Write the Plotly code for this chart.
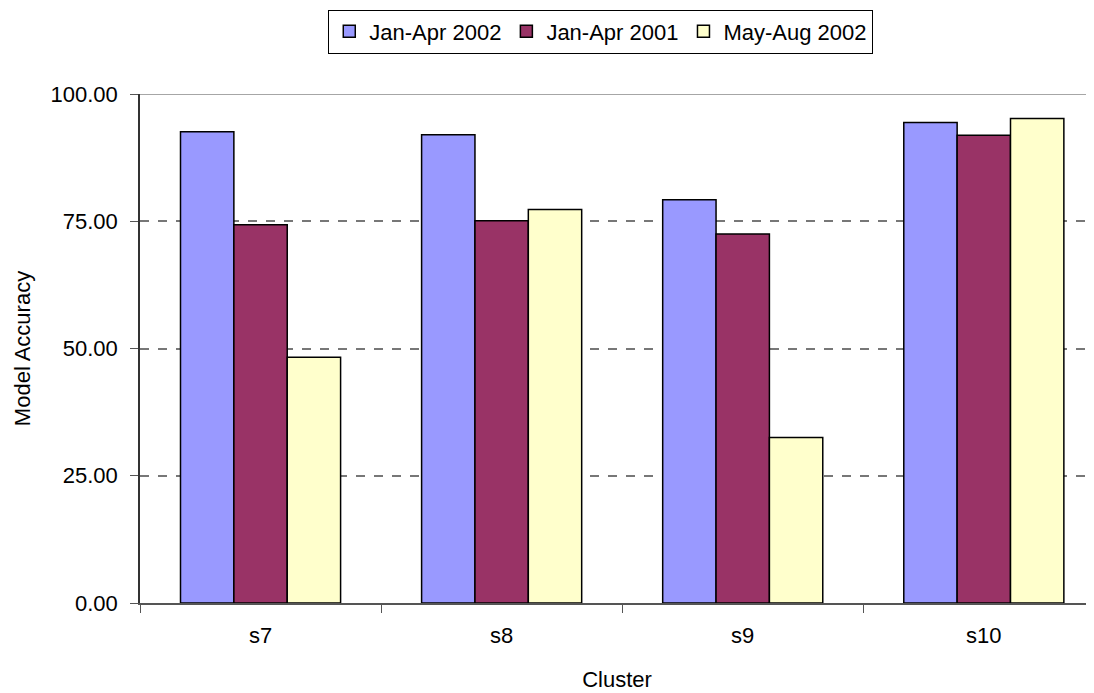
import plotly.graph_objects as go

# data
clusters = ["s7", "s8", "s9", "s10"]
jan_apr_2002 = [92.6, 92.0, 79.2, 94.4]
jan_apr_2001 = [74.3, 75.1, 72.5, 91.9]
may_aug_2002 = [48.3, 77.3, 32.5, 95.2]

series_names = ["Jan-Apr 2002", "Jan-Apr 2001", "May-Aug 2002"]
series_colors = ["#9999FF", "#993366", "#FFFFCC"]

font_family = "Liberation Sans, Arial, sans-serif"

fig = go.Figure()
for name, vals, col in zip(series_names, [jan_apr_2002, jan_apr_2001, may_aug_2002], series_colors):
    fig.add_trace(go.Bar(
        x=clusters,
        y=vals,
        name=name,
        marker=dict(color=col, line=dict(color="black", width=1.5)),
    ))

fig.update_layout(
    # page body adds an 8px margin, so the figure is a bit smaller than the window
    width=1086,
    height=685,
    barmode="group",
    bargap=0.336,
    bargroupgap=0,
    plot_bgcolor="white",
    paper_bgcolor="white",
    font=dict(family=font_family, size=22, color="black"),
    margin=dict(l=132, r=0, t=86, b=90),
    showlegend=True,
    legend=dict(
        orientation="h",
        xanchor="center",
        x=0.483,
        yanchor="top",
        y=1.166,
        bordercolor="black",
        borderwidth=1,
        font=dict(size=22),
        itemwidth=30,
        tracegroupgap=0,
    ),
    xaxis=dict(
        # right end of the plot is cut off by the window edge
        range=[-0.5, 3.457],
        showgrid=False,
        showline=True,
        linecolor="#555555",
        linewidth=1.5,
        ticks="outside",
        tickson="boundaries",
        ticklen=8,
        tickcolor="#555555",
        ticklabelstandoff=12,
        title=dict(text="Cluster", font=dict(size=22), standoff=24),
    ),
    yaxis=dict(
        range=[0, 100],
        tickvals=[0, 25, 50, 75, 100],
        tickformat=".2f",
        showgrid=True,
        gridcolor="#777777",
        gridwidth=1.5,
        griddash="dash",
        zeroline=False,
        showline=True,
        linecolor="#333333",
        linewidth=1.5,
        ticks="outside",
        ticklen=8,
        tickcolor="#555555",
        ticklabelstandoff=8,
        title=dict(text="Model Accuracy", font=dict(size=22), standoff=14),
    ),
)

# top gridline appears solid in the reference
fig.add_shape(type="line", xref="paper", yref="y", x0=0, x1=1, y0=100, y1=100,
              line=dict(color="#888888", width=1.5), layer="below")

fig.write_html("out.html")
